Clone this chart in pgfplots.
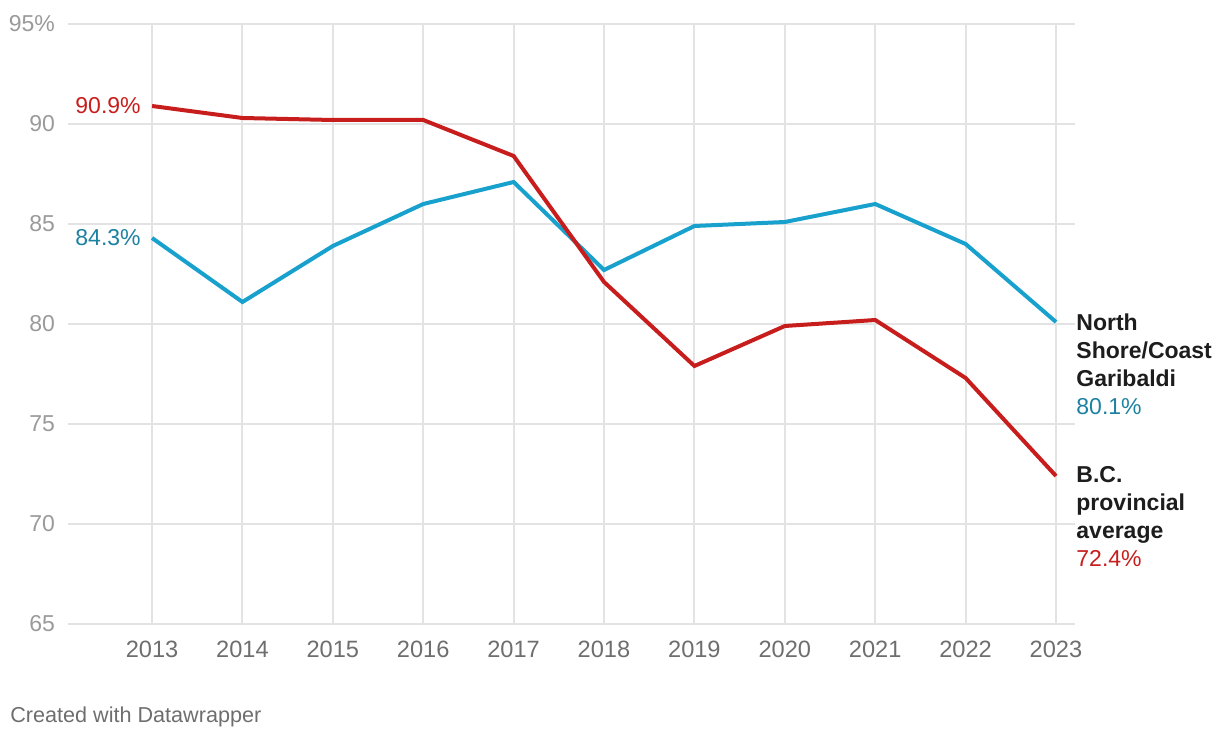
\documentclass[border=0pt]{standalone}
\usepackage{pgfplots}
\pgfplotsset{compat=1.18}
\usepackage{fontspec}
\setmainfont{Liberation Sans}
\definecolor{redline}{HTML}{C71E1D}
\definecolor{blueline}{HTML}{18A1CD}
\definecolor{bluetext}{HTML}{1D81A2}
\definecolor{gridc}{HTML}{E3E3E3}
\definecolor{ytick}{HTML}{9A9A9A}
\definecolor{xtick}{HTML}{6E6E6E}
\definecolor{labtext}{HTML}{1D1D1D}
\begin{document}
\begin{tikzpicture}
\path[use as bounding box] (0,0) rectangle (610pt,370pt);
\begin{axis}[
    at={(34pt,58pt)}, anchor=south west,
    scale only axis, width=503.5pt, height=300pt,
    xmin=2012.07, xmax=2023.21, ymin=65, ymax=95,
    xtick={2013,...,2023}, ytick={65,70,...,95},
    yticklabels={65,70,75,80,85,90,95\%},
    /pgf/number format/1000 sep={},
    /pgf/number format/assume math mode=true,
    grid=major, major grid style={gridc, line width=1pt},
    axis line style={draw=none}, major tick length=0pt,
    xticklabel style={font=\fontsize{11.8}{14}\selectfont, text=xtick, yshift=-5pt},
    yticklabel style={font=\fontsize{11.5}{14}\selectfont, text=ytick, xshift=-3pt},
    clip=false,
]
\addplot[blueline, line width=2pt] coordinates {
    (2013,84.3) (2014,81.1) (2015,83.9) (2016,86.0) (2017,87.1) (2018,82.7)
    (2019,84.9) (2020,85.1) (2021,86.0) (2022,84.0) (2023,80.1)};
\addplot[redline, line width=2pt] coordinates {
    (2013,90.9) (2014,90.3) (2015,90.2) (2016,90.2) (2017,88.4) (2018,82.1)
    (2019,77.9) (2020,79.9) (2021,80.2) (2022,77.3) (2023,72.4)};
\node[anchor=east, text=redline, font=\fontsize{11.5}{14}\selectfont, inner sep=0pt, xshift=-5.5pt] at (axis cs:2013,90.9) {90.9\%};
\node[anchor=east, text=bluetext, font=\fontsize{11.5}{14}\selectfont, inner sep=0pt, xshift=-5.5pt] at (axis cs:2013,84.3) {84.3\%};
\node[anchor=north west, align=left, text=labtext, font=\fontsize{11.5}{14}\selectfont, inner sep=0pt, xshift=10pt, yshift=4.5pt] at (axis cs:2023,80.1)
    {\textbf{North}\\\textbf{Shore/Coast}\\\textbf{Garibaldi}\\\textcolor{bluetext}{80.1\%}};
\node[anchor=north west, align=left, text=labtext, font=\fontsize{11.5}{14}\selectfont, inner sep=0pt, xshift=10pt, yshift=5pt] at (axis cs:2023,72.4)
    {\textbf{B.C.}\\\textbf{provincial}\\\textbf{average}\\\textcolor{redline}{72.4\%}};
\end{axis}
\node[anchor=west, text=xtick, font=\fontsize{10.8}{13}\selectfont, inner sep=0pt] at (5pt,11.5pt) {Created with Datawrapper};
\end{tikzpicture}
\end{document}
